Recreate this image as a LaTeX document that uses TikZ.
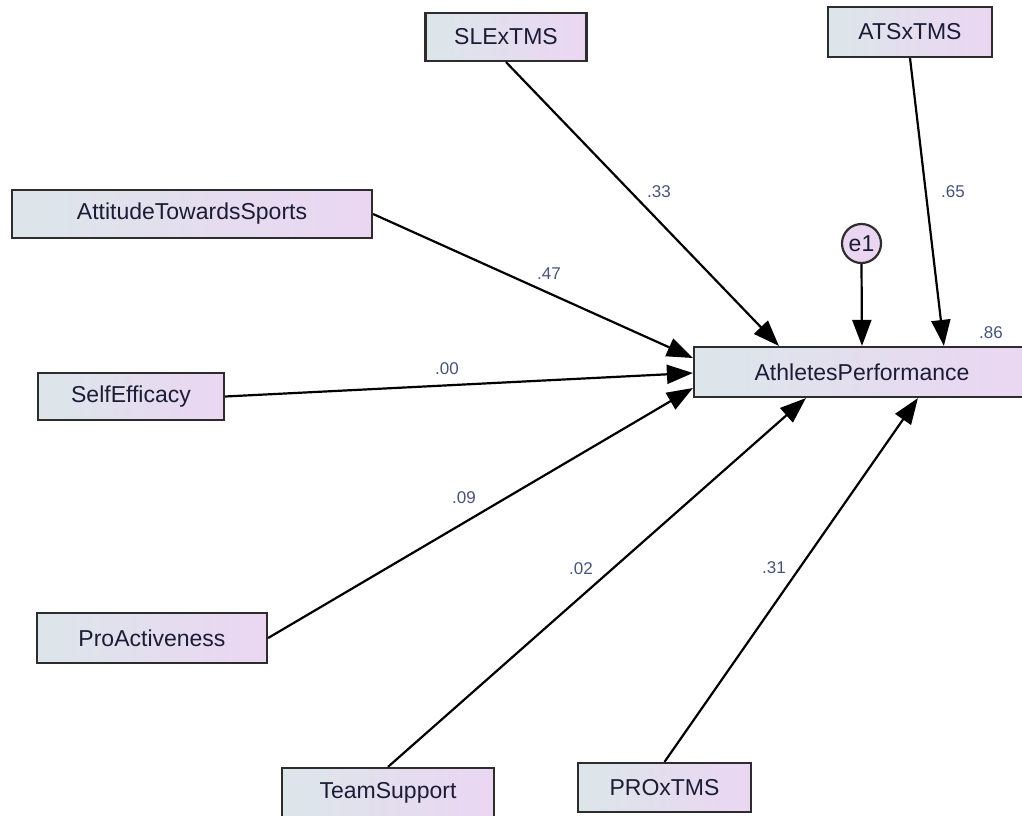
\documentclass[tikz,border=0pt]{standalone}
\usepackage{fontspec}
\setmainfont{Liberation Sans}
\usetikzlibrary{arrows.meta}
\definecolor{boxleft}{RGB}{220,230,234}
\definecolor{boxright}{RGB}{235,214,242}
\definecolor{boxline}{RGB}{45,45,45}
\definecolor{txt}{RGB}{28,28,55}
\definecolor{lbl}{RGB}{70,85,120}
\tikzset{
  var/.style={rectangle, draw=boxline, line width=2.2pt, left color=boxleft, right color=boxright,
    inner sep=0pt, text=txt, font=\fontsize{23}{26}\selectfont},
  err/.style={circle, draw=boxline, line width=2.2pt, fill=boxright, inner sep=0pt,
    minimum size=39pt, text=txt, font=\fontsize{23}{26}\selectfont},
  path/.style={line width=2.2pt, black, -{Triangle[length=26pt,width=19pt]}},
  coef/.style={text=lbl, font=\fontsize{17}{19}\selectfont, inner sep=0pt}
}
\begin{document}
\begin{tikzpicture}[x=1pt,y=-1pt]
\useasboundingbox (0,0) rectangle (1022,815);
\fill[white] (0,0) rectangle (1022,815);
% nodes
\node[var, minimum width=161pt, minimum height=48pt] (sle) at (506,37) {SLExTMS};
\node[var, minimum width=164pt, minimum height=50pt] (atsx) at (910,32) {ATSxTMS};
\node[var, minimum width=360pt, minimum height=48pt] (att) at (192,214) {AttitudeTowardsSports};
\node[var, minimum width=186pt, minimum height=47pt] (se) at (131,396.5) {SelfEfficacy};
\node[var, minimum width=230pt, minimum height=50pt] (pro) at (152,638) {ProActiveness};
\node[var, minimum width=212pt, minimum height=50pt] (ts) at (388,793) {TeamSupport};
\node[var, minimum width=173pt, minimum height=49pt] (prox) at (664.5,787.5) {PROxTMS};
\node[var, minimum width=336pt, minimum height=50pt] (ap) at (862,372) {AthletesPerformance};
\node[err] (e1) at (861.5,243.5) {e1};
% paths
\draw[path] (sle.south) -- ([xshift=86pt]ap.north west);
\draw[path] (atsx.south) -- ([xshift=251pt]ap.north west);
\draw[path] (e1.south) -- (ap.north);
\draw[path] (att.east) -- ([yshift=14pt]ap.west);
\draw[path] (se.east) -- ([yshift=-1pt]ap.west);
\draw[path] (pro.east) -- ([yshift=-16pt]ap.west);
\draw[path] (ts.north) -- ([xshift=113pt]ap.south west);
\draw[path] (prox.north) -- ([xshift=225pt]ap.south west);
% coefficients
\node[coef] (c1) at (659,192) {.33};
\node[coef] (c2) at (953,192) {.65};
\node[coef] (c3) at (549,274) {.47};
\node[coef] (c4) at (447,369) {.00};
\node[coef] (c5) at (464,498) {.09};
\node[coef] (c6) at (581,569) {.02};
\node[coef] (c7) at (774,568) {.31};
\node[coef] (c8) at (991,333) {.86};
\end{tikzpicture}
\end{document}
